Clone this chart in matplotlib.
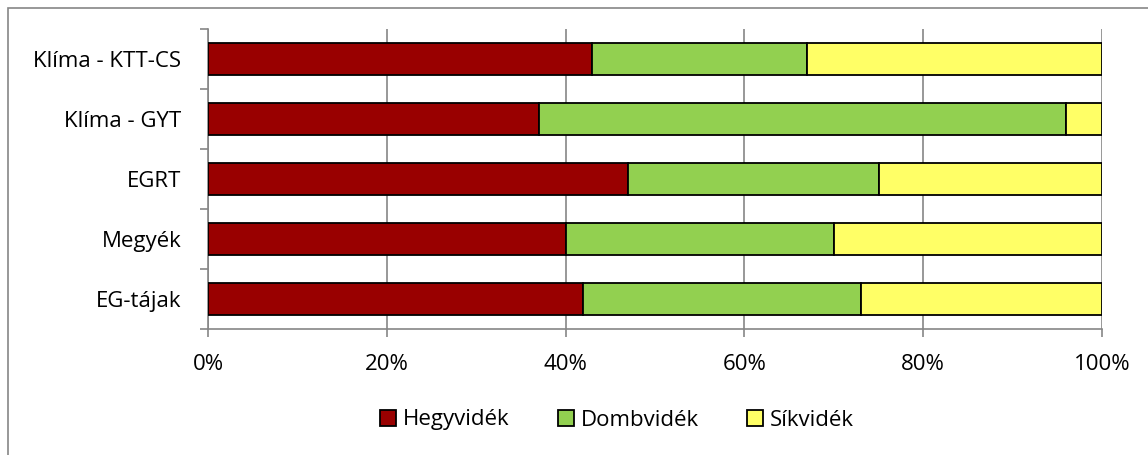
import numpy as np
import matplotlib.pyplot as plt
from matplotlib.patches import Rectangle

plt.rcParams['font.family'] = ['Open Sans', 'DejaVu Sans']

categories = ["EG-tájak", "Megyék", "EGRT", "Klíma - GYT", "Klíma - KTT-CS"]
hegyvidek = [42, 40, 47, 37, 43]
dombvidek = [31, 30, 28, 59, 24]
sikvidek = [27, 30, 25, 4, 33]
series_names = ["Hegyvidék", "Dombvidék", "Síkvidék"]
colors = ["#990000", "#92D050", "#FFFF66"]
xtick_labels = ["0%", "20%", "40%", "60%", "80%", "100%"]

fig = plt.figure(figsize=(11.48, 4.55), dpi=100)
ax = fig.add_axes([208 / 1148, 1 - 329 / 455, (1102 - 208) / 1148, 300 / 455])

# outer chart frame
fig.patches.append(Rectangle((8 / 1148, -0.1), 1.2, 1 - 8 / 455 + 0.1, transform=fig.transFigure,
                             fill=False, edgecolor="#868686", linewidth=1.2))

y = np.arange(len(categories))
left = np.zeros(len(categories))
for vals, name, col in zip([hegyvidek, dombvidek, sikvidek], series_names, colors):
    vals = np.array(vals, dtype=float)
    ax.barh(y, vals, left=left, height=0.52, color=col, edgecolor="black",
            linewidth=1.3, label=name, zorder=3)
    left += vals

ax.set_xlim(0, 100)
ax.set_ylim(-0.5, len(categories) - 0.5)
ax.set_xticks(np.arange(0, 101, 20))
ax.set_xticklabels(xtick_labels, fontsize=16)
ax.set_yticks(y)
ax.set_yticklabels(categories, fontsize=16)
ax.set_yticks(np.arange(-0.5, len(categories), 1), minor=True)
ax.tick_params(axis="y", which="major", length=0, pad=19)
ax.tick_params(axis="y", which="minor", length=6, color="#868686", width=1.2)
ax.tick_params(axis="x", length=6, color="#868686", width=1.2, pad=12)
ax.grid(axis="x", color="#868686", linewidth=1.2, zorder=0)

for side in ["top", "right"]:
    ax.spines[side].set_visible(False)
for side in ["left", "bottom"]:
    ax.spines[side].set_color("#868686")
    ax.spines[side].set_linewidth(1.2)

fig.legend(loc="center", bbox_to_anchor=(0.5375, 1 - 420 / 455), ncol=3, frameon=False,
           fontsize=16, handlelength=0.7, handleheight=0.7, handletextpad=0.3,
           columnspacing=2.2)

fig.savefig("out.png", dpi=100)
